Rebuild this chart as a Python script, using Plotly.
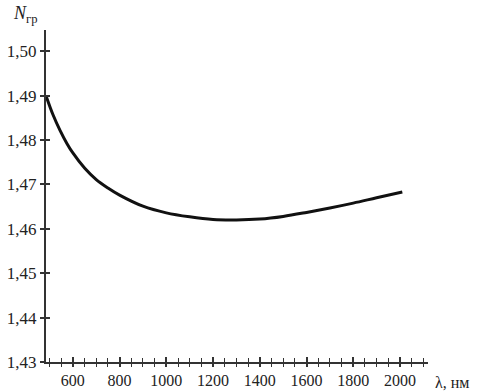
import plotly.graph_objects as go

# Data
wavelength_nm = [485, 515, 545, 575, 600, 650, 700, 750, 800, 900, 1000, 1100, 1200, 1300, 1400, 1500, 1600, 1700, 1800, 1900, 2010]
n_group = [1.4900, 1.4857, 1.4822, 1.4792, 1.4771, 1.4737, 1.4711, 1.4692, 1.4676, 1.4651, 1.4636, 1.4627, 1.4621, 1.4620, 1.4622, 1.4628, 1.4637, 1.4647, 1.4658, 1.4670, 1.4683]

x_tickvals = [600, 800, 1000, 1200, 1400, 1600, 1800, 2000]
y_tickvals = [1.43, 1.44, 1.45, 1.46, 1.47, 1.48, 1.49, 1.50]
y_ticktext = ["1,43", "1,44", "1,45", "1,46", "1,47", "1,48", "1,49", "1,50"]

FONT = "Liberation Serif, Times New Roman, serif"
XR = [485, 2120]
YR = [1.43, 1.5048]

fig = go.Figure()
fig.add_trace(go.Scatter(
    x=wavelength_nm, y=n_group, mode="lines",
    line=dict(color="#111111", width=3, shape="spline", smoothing=1.0),
    showlegend=False, hoverinfo="skip"))

# invisible trace on overlay axes for crossing ticks
fig.add_trace(go.Scatter(x=[XR[0]], y=[YR[0]], xaxis="x2", yaxis="y2",
                         mode="markers", marker=dict(opacity=0), showlegend=False,
                         hoverinfo="skip"))

fig.update_layout(
    width=486, height=391,
    margin=dict(l=46, r=58, t=30, b=29, autoexpand=False),
    paper_bgcolor="white", plot_bgcolor="white",
    font=dict(family=FONT, size=16, color="#222222"),
    xaxis=dict(range=XR, showgrid=False, zeroline=False, automargin=False,
               showline=True, linecolor="#333333", linewidth=2,
               tickvals=x_tickvals, ticks="outside", ticklen=3, tickwidth=1.5,
               tickcolor="#333333",
               minor=dict(dtick=50, tick0=500, ticks="outside", ticklen=3,
                          tickwidth=1.2, tickcolor="#333333"),
               tickfont=dict(family=FONT, size=16, color="#222222")),
    yaxis=dict(range=YR, showgrid=False, zeroline=False, automargin=False,
               showline=True, linecolor="#333333", linewidth=2,
               tickvals=y_tickvals, ticktext=y_ticktext,
               ticks="outside", ticklen=4, tickwidth=1.5, tickcolor="#333333",
               tickfont=dict(family=FONT, size=17, color="#222222")),
    xaxis2=dict(range=XR, overlaying="x", showgrid=False, zeroline=False,
                automargin=False,
                showticklabels=False, tickvals=x_tickvals, ticks="inside",
                ticklen=5, tickwidth=1.5, tickcolor="#333333",
                minor=dict(dtick=50, tick0=500, ticks="inside", ticklen=4,
                           tickwidth=1.2, tickcolor="#333333")),
    yaxis2=dict(range=YR, overlaying="y", showgrid=False, zeroline=False,
                automargin=False,
                showticklabels=False, tickvals=y_tickvals, ticks="inside",
                ticklen=4, tickwidth=1.5, tickcolor="#333333"),
    annotations=[
        dict(text="<i>N</i><sub>гр</sub>", xref="paper", yref="paper",
             x=-0.055, y=1.0, yshift=16, xanchor="center", yanchor="middle",
             showarrow=False, font=dict(family=FONT, size=18, color="#222222")),
        dict(text="λ, нм", xref="paper", yref="paper",
             x=1.0, y=0.0, xshift=5, yshift=-10, xanchor="left", yanchor="top",
             showarrow=False, font=dict(family=FONT, size=16, color="#222222")),
    ],
)

fig.write_html("out.html",
               config={"displayModeBar": False},
               post_script="document.body.style.margin='0px';"
                           "document.body.style.overflow='hidden';")
